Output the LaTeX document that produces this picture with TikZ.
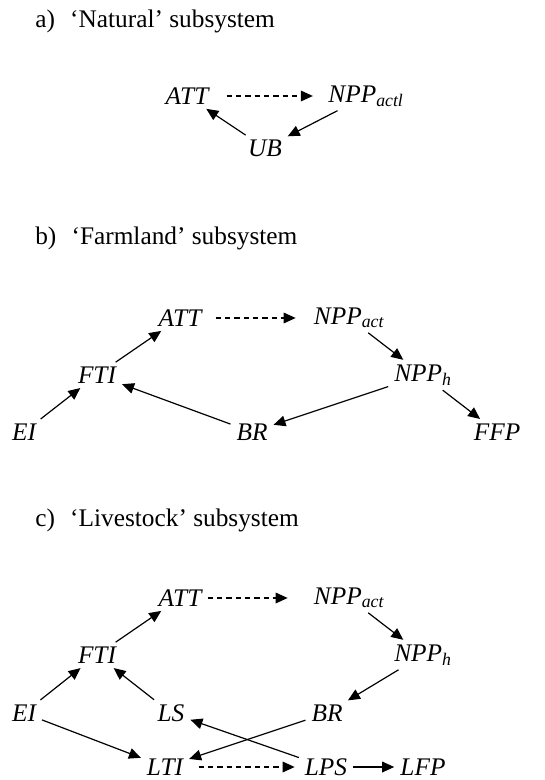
\documentclass[tikz,border=0pt]{standalone}
\usepackage{fontspec}
\setmainfont{Liberation Serif}
\usetikzlibrary{arrows.meta, positioning}

\newcommand{\sub}[1]{\textsubscript{\textit{#1}}}

\begin{document}
\begin{tikzpicture}[x=0.75pt, y=-0.75pt,
  var/.style={font=\fontsize{19}{22}\selectfont\itshape, inner sep=1.5pt},
  ttl/.style={font=\fontsize{19}{22}\selectfont, anchor=base west, inner sep=0pt},
  arr/.style={-{Triangle[length=9pt, width=8pt]}, line width=0.9pt, shorten <=3pt, shorten >=3pt},
  dasharr/.style={arr, dash pattern=on 4pt off 3pt}]
  \useasboundingbox (0,0) rectangle (544,780);

  % a) Natural
  \node[ttl] (ta) at (35, 28) {a)\hspace{0.6em}‘Natural’ subsystem};
  \node[var] (attA) at (187, 96) {ATT};
  \node[var] (nppA) at (366, 96) {NPP\sub{actl}};
  \node[var] (ubA) at (265, 148) {UB};
  \draw[dasharr, shorten <=12pt, shorten >=10pt] (attA) -- (nppA);
  \draw[arr] (nppA) -- (ubA);
  \draw[arr] (ubA) -- (attA);

  % b) Farmland
  \node[ttl] (tb) at (35, 245) {b)\hspace{0.6em}‘Farmland’ subsystem};
  \node[var] (attB) at (180, 318) {ATT};
  \node[var] (nppB) at (349, 318) {NPP\sub{act}};
  \node[var] (ftiB) at (97, 375) {FTI};
  \node[var] (npphB) at (423, 375) {NPP\sub{h}};
  \node[var] (eiB) at (24, 432) {EI};
  \node[var] (brB) at (252, 432) {BR};
  \node[var] (ffpB) at (497, 432) {FFP};
  \draw[dasharr, shorten <=9pt, shorten >=12pt] (attB) -- (nppB);
  \draw[arr] (ftiB) -- (attB);
  \draw[arr] (nppB) -- (npphB);
  \draw[arr] (eiB) -- (ftiB);
  \draw[arr] (brB) -- (ftiB);
  \draw[arr] (npphB) -- (brB);
  \draw[arr] (npphB) -- (ffpB);

  % c) Livestock
  \node[ttl] (tc) at (35, 526) {c)\hspace{0.6em}‘Livestock’ subsystem};
  \node[var] (attC) at (180, 598) {ATT};
  \node[var] (nppC) at (349, 598) {NPP\sub{act}};
  \node[var] (ftiC) at (97, 655) {FTI};
  \node[var] (npphC) at (423, 655) {NPP\sub{h}};
  \node[var] (eiC) at (24, 713) {EI};
  \node[var] (lsC) at (171, 713) {LS};
  \node[var] (brC) at (327, 713) {BR};
  \node[var] (ltiC) at (165, 767) {LTI};
  \node[var] (lpsC) at (326, 767) {LPS};
  \node[var] (lfpC) at (423, 767) {LFP};
  \draw[dasharr, shorten <=3pt, shorten >=18pt] (attC) -- (nppC);
  \draw[arr] (ftiC) -- (attC);
  \draw[arr] (nppC) -- (npphC);
  \draw[arr] (npphC) -- (brC);
  \draw[arr] (eiC) -- (ftiC);
  \draw[arr] (lsC) -- (ftiC);
  \draw[arr] (eiC) -- (ltiC);
  \draw[arr] (brC) -- (ltiC);
  \draw[arr] (lpsC) -- (lsC);
  \draw[dasharr, shorten <=10pt, shorten >=6pt] (ltiC) -- (lpsC);
  \draw[arr] (lpsC) -- (lfpC);
\end{tikzpicture}
\end{document}
